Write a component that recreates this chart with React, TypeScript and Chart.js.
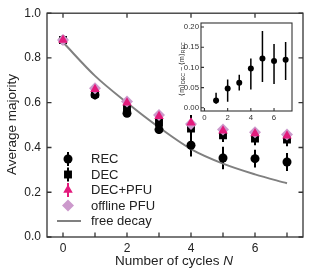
import React, { useEffect, useRef } from 'react';
import { Chart, registerables } from 'chart.js';

Chart.register(...registerables);

// ---------- data ----------
const cycles = [0, 1, 2, 3, 4, 5, 6, 7];
const recMean = [0.88, 0.635, 0.553, 0.48, 0.41, 0.353, 0.35, 0.335];
const recErr = [0.01, 0.02, 0.012, 0.02, 0.05, 0.05, 0.04, 0.04];
const decMean = [0.88, 0.64, 0.575, 0.51, 0.485, 0.455, 0.44, 0.435];
const decErr = [0.01, 0.015, 0.015, 0.02, 0.06, 0.03, 0.03, 0.03];
const decPfuMean = [0.88, 0.66, 0.6, 0.54, 0.51, 0.475, 0.462, 0.452];
const decPfuErr = [0.012, 0.015, 0.015, 0.015, 0.015, 0.015, 0.015, 0.015];
const offlineMean = [0.88, 0.665, 0.605, 0.545, 0.505, 0.48, 0.468, 0.458];
const freeDecay = [0.87, 0.72, 0.6, 0.49, 0.393, 0.328, 0.28, 0.24];

const mainXTickLabels = [0, 2, 4, 6];
const mainYTickLabels = [0, 0.2, 0.4, 0.6, 0.8, 1.0];

const insetCycles = [1, 2, 3, 4, 5, 6, 7];
const insetDiff = [0.018, 0.048, 0.062, 0.097, 0.122, 0.116, 0.119];
const insetLo = [0.01, 0.015, 0.043, 0.045, 0.064, 0.059, 0.069];
const insetHi = [0.037, 0.07, 0.082, 0.122, 0.19, 0.158, 0.163];
const insetXTickLabels = [0, 2, 4, 6];
const insetYTickLabels = [0, 0.05, 0.1, 0.15, 0.2];

const FONT = "'Liberation Sans', Arial, Helvetica, sans-serif";
const PINK = '#e31a7c';
const LILAC = '#cc99cc';
const GREY = '#808080';
const AXIS = '#333333';

const pts = (xs: number[], ys: number[]) => xs.map((x, i) => ({ x, y: ys[i] }));

// ---------- plugins ----------
const errorBarPlugin = {
  id: 'errorBars',
  beforeDatasetsDraw(chart: any) {
    const { ctx, scales } = chart;
    ctx.save();
    chart.data.datasets.forEach((ds: any) => {
      if (!ds.errLo) return;
      ctx.strokeStyle = ds.errColor || '#000';
      ctx.lineWidth = ds.errWidth || 2;
      ctx.beginPath();
      ds.data.forEach((p: any, i: number) => {
        const px = scales.x.getPixelForValue(p.x);
        ctx.moveTo(px, scales.y.getPixelForValue(ds.errLo[i]));
        ctx.lineTo(px, scales.y.getPixelForValue(ds.errHi[i]));
      });
      ctx.stroke();
    });
    ctx.restore();
  },
};

const framePlugin = {
  id: 'frame',
  afterDraw(chart: any, _args: any, opts: any) {
    const { ctx, chartArea: a, scales } = chart;
    ctx.save();
    ctx.strokeStyle = AXIS;
    ctx.lineWidth = opts.lineWidth || 1.3;
    ctx.strokeRect(a.left, a.top, a.right - a.left, a.bottom - a.top);
    const L = opts.len || 4;
    ctx.beginPath();
    (opts.bottom || []).forEach((v: number) => {
      const px = scales.x.getPixelForValue(v);
      ctx.moveTo(px, a.bottom);
      ctx.lineTo(px, a.bottom - L);
    });
    (opts.top || []).forEach((v: number) => {
      const px = scales.x.getPixelForValue(v);
      ctx.moveTo(px, a.top);
      ctx.lineTo(px, a.top + L);
    });
    (opts.left || []).forEach((v: number) => {
      const py = scales.y.getPixelForValue(v);
      ctx.moveTo(a.left, py);
      ctx.lineTo(a.left + L, py);
    });
    (opts.right || []).forEach((v: number) => {
      const py = scales.y.getPixelForValue(v);
      ctx.moveTo(a.right, py);
      ctx.lineTo(a.right - L, py);
    });
    ctx.stroke();
    ctx.restore();
  },
};

function marker(ctx: CanvasRenderingContext2D, style: string, x: number, y: number, r: number, color: string) {
  ctx.fillStyle = color;
  ctx.beginPath();
  if (style === 'circle') {
    ctx.arc(x, y, r, 0, Math.PI * 2);
  } else if (style === 'rect') {
    const s = r * Math.SQRT1_2;
    ctx.rect(x - s, y - s, 2 * s, 2 * s);
  } else if (style === 'triangle') {
    const h = r * 1.5;
    const w = r * Math.sqrt(3);
    ctx.moveTo(x, y - r);
    ctx.lineTo(x + w / 2, y - r + h);
    ctx.lineTo(x - w / 2, y - r + h);
    ctx.closePath();
  } else if (style === 'rectRot') {
    ctx.moveTo(x, y - r);
    ctx.lineTo(x + r, y);
    ctx.lineTo(x, y + r);
    ctx.lineTo(x - r, y);
    ctx.closePath();
  }
  ctx.fill();
}

const mainTextPlugin = {
  id: 'mainText',
  afterDraw(chart: any) {
    const { ctx, chartArea: a } = chart;
    ctx.save();
    ctx.fillStyle = '#222';
    // y title
    ctx.font = `13.5px ${FONT}`;
    ctx.textAlign = 'center';
    ctx.textBaseline = 'middle';
    ctx.save();
    ctx.translate(12, 124.5);
    ctx.rotate(-Math.PI / 2);
    ctx.fillText('Average majority', 0, 0);
    ctx.restore();
    // x title with italic N
    const part1 = 'Number of cycles ';
    ctx.font = `13.5px ${FONT}`;
    const w1 = ctx.measureText(part1).width;
    ctx.font = `italic 13.5px ${FONT}`;
    const w2 = ctx.measureText('N').width;
    const cx = (a.left + a.right) / 2 - 1;
    const x0 = cx - (w1 + w2) / 2;
    ctx.textAlign = 'left';
    ctx.font = `13.5px ${FONT}`;
    ctx.fillText(part1, x0, 261.5);
    ctx.font = `italic 13.5px ${FONT}`;
    ctx.fillText('N', x0 + w1, 261.5);

    // legend
    const items = [
      { label: 'REC', style: 'circle', r: 4.5, color: '#000', bar: true, barColor: '#000' },
      { label: 'DEC', style: 'rect', r: 5.6, color: '#000', bar: true, barColor: '#000' },
      { label: 'DEC+PFU', style: 'triangle', r: 5.5, color: PINK, bar: true, barColor: PINK },
      { label: 'offline PFU', style: 'rectRot', r: 6, color: LILAC, bar: false, barColor: '' },
      { label: 'free decay', style: 'line', r: 0, color: GREY, bar: false, barColor: '' },
    ];
    const mx = 68;
    const tx = 91;
    let y = 159;
    ctx.font = `13px ${FONT}`;
    ctx.textBaseline = 'middle';
    items.forEach((it) => {
      if (it.style === 'line') {
        ctx.strokeStyle = GREY;
        ctx.lineWidth = 2;
        ctx.beginPath();
        ctx.moveTo(57, y);
        ctx.lineTo(81, y);
        ctx.stroke();
      } else {
        if (it.bar) {
          ctx.strokeStyle = it.barColor;
          ctx.lineWidth = 2;
          ctx.beginPath();
          ctx.moveTo(mx, y - 7);
          ctx.lineTo(mx, y + 7);
          ctx.stroke();
        }
        marker(ctx, it.style, mx, y, it.r, it.color);
      }
      ctx.fillStyle = '#222';
      ctx.fillText(it.label, tx, y + 0.5);
      y += 15.5;
    });
    ctx.restore();
  },
};

const insetTextPlugin = {
  id: 'insetText',
  afterDraw(chart: any) {
    const { ctx, chartArea: a } = chart;
    ctx.save();
    ctx.fillStyle = '#222';
    const big = `7px ${FONT}`;
    const small = `5.2px ${FONT}`;
    const parts: [string, string, number][] = [
      ['\u27E8m\u27E9', big, 0],
      ['DEC', small, 1.6],
      [' \u2212 \u27E8m\u27E9', big, 0],
      ['REC', small, 1.6],
    ];
    let total = 0;
    const widths = parts.map(([t, f]) => {
      ctx.font = f;
      const w = ctx.measureText(t).width;
      total += w;
      return w;
    });
    ctx.translate(12, (a.top + a.bottom) / 2 + 2);
    ctx.rotate(-Math.PI / 2);
    ctx.textBaseline = 'middle';
    ctx.textAlign = 'left';
    let x = -total / 2;
    parts.forEach(([t, f, dy], i) => {
      ctx.font = f;
      ctx.fillText(t, x, dy);
      x += widths[i];
    });
    ctx.restore();
  },
};

// ---------- component ----------
export default function App() {
  const mainRef = useRef<HTMLCanvasElement | null>(null);
  const insetRef = useRef<HTMLCanvasElement | null>(null);

  useEffect(() => {
    const mainCfg: any = {
      type: 'scatter',
      data: {
        datasets: [
          {
            type: 'line',
            label: 'free decay',
            data: pts(cycles, freeDecay),
            borderColor: GREY,
            borderWidth: 2,
            pointRadius: 0,
            cubicInterpolationMode: 'monotone',
            fill: false,
            order: 5,
          },
          {
            label: 'REC',
            data: pts(cycles, recMean),
            pointStyle: 'circle',
            pointRadius: 4.5,
            backgroundColor: '#000',
            borderWidth: 0,
            errLo: recMean.map((m, i) => m - recErr[i]),
            errHi: recMean.map((m, i) => m + recErr[i]),
            errColor: '#000',
            order: 4,
          },
          {
            label: 'DEC',
            data: pts(cycles, decMean),
            pointStyle: 'rect',
            pointRadius: 5.6,
            backgroundColor: '#000',
            borderWidth: 0,
            errLo: decMean.map((m, i) => m - decErr[i]),
            errHi: decMean.map((m, i) => m + decErr[i]),
            errColor: '#000',
            order: 3,
          },
          {
            label: 'offline PFU',
            data: pts(cycles, offlineMean),
            pointStyle: 'rectRot',
            pointRadius: 6,
            backgroundColor: LILAC,
            borderWidth: 0,
            order: 2,
          },
          {
            label: 'DEC+PFU',
            data: pts(cycles, decPfuMean),
            pointStyle: 'triangle',
            pointRadius: 5.5,
            backgroundColor: PINK,
            borderWidth: 0,
            errLo: decPfuMean.map((m, i) => m - decPfuErr[i]),
            errHi: decPfuMean.map((m, i) => m + decPfuErr[i]),
            errColor: PINK,
            order: 1,
          },
        ],
      },
      options: {
        animation: false,
        responsive: false,
        devicePixelRatio: 1,
        layout: { padding: { left: 0, top: 13, right: 9, bottom: 0 } },
        plugins: {
          legend: { display: false },
          tooltip: { enabled: false },
          frame: {
            len: 4.5,
            lineWidth: 1.3,
            bottom: cycles,
            top: mainXTickLabels,
            left: mainYTickLabels,
            right: mainYTickLabels,
          },
        },
        scales: {
          x: {
            type: 'linear',
            min: -0.5,
            max: 7.5,
            grid: { display: false, drawTicks: false },
            border: { display: false },
            afterBuildTicks: (s: any) => {
              s.ticks = mainXTickLabels.map((v) => ({ value: v }));
            },
            afterFit: (s: any) => {
              s.height = 41;
            },
            ticks: {
              padding: 4,
              color: '#222',
              font: { family: FONT, size: 12 },
              callback: (v: any) => String(v),
              maxRotation: 0,
            },
          },
          y: {
            type: 'linear',
            min: 0,
            max: 1,
            grid: { display: false, drawTicks: false },
            border: { display: false },
            afterBuildTicks: (s: any) => {
              s.ticks = mainYTickLabels.map((v) => ({ value: v }));
            },
            afterFit: (s: any) => {
              s.width = 47;
            },
            ticks: {
              padding: 6,
              color: '#222',
              font: { family: FONT, size: 12 },
              callback: (v: any) => Number(v).toFixed(1),
            },
          },
        },
      },
      plugins: [errorBarPlugin, framePlugin, mainTextPlugin],
    };

    const insetCfg: any = {
      type: 'scatter',
      data: {
        datasets: [
          {
            label: 'diff',
            data: pts(insetCycles, insetDiff),
            pointStyle: 'circle',
            pointRadius: 3,
            backgroundColor: '#000',
            borderWidth: 0,
            errLo: insetLo,
            errHi: insetHi,
            errColor: '#000',
            errWidth: 1.5,
          },
        ],
      },
      options: {
        animation: false,
        responsive: false,
        devicePixelRatio: 1,
        layout: { padding: { left: 0, top: 8, right: 6, bottom: 0 } },
        plugins: {
          legend: { display: false },
          tooltip: { enabled: false },
          frame: {
            len: 3,
            lineWidth: 1.1,
            bottom: insetXTickLabels,
            left: insetYTickLabels,
          },
        },
        scales: {
          x: {
            type: 'linear',
            min: -0.3,
            max: 7.55,
            grid: { display: false, drawTicks: false },
            border: { display: false },
            afterBuildTicks: (s: any) => {
              s.ticks = insetXTickLabels.map((v) => ({ value: v }));
            },
            afterFit: (s: any) => {
              s.height = 16;
            },
            ticks: {
              padding: 2,
              color: '#333',
              font: { family: FONT, size: 7.8 },
              callback: (v: any) => String(v),
              maxRotation: 0,
            },
          },
          y: {
            type: 'linear',
            min: -0.008,
            max: 0.21,
            grid: { display: false, drawTicks: false },
            border: { display: false },
            afterBuildTicks: (s: any) => {
              s.ticks = insetYTickLabels.map((v) => ({ value: v }));
            },
            afterFit: (s: any) => {
              s.width = 31;
            },
            ticks: {
              padding: 2,
              color: '#333',
              font: { family: FONT, size: 7.8 },
              callback: (v: any) => Number(v).toFixed(2),
            },
          },
        },
      },
      plugins: [errorBarPlugin, framePlugin, insetTextPlugin],
    };

    const c1 = new Chart(mainRef.current as HTMLCanvasElement, mainCfg);
    const c2 = new Chart(insetRef.current as HTMLCanvasElement, insetCfg);
    return () => {
      c1.destroy();
      c2.destroy();
    };
  }, []);

  return (
    <div style={{ position: 'absolute', left: 0, top: 0, width: 312, height: 278, background: '#fff' }}>
      <canvas ref={mainRef} width={312} height={278} style={{ position: 'absolute', left: 0, top: 0 }} />
      <canvas ref={insetRef} width={128} height={112} style={{ position: 'absolute', left: 170, top: 15 }} />
    </div>
  );
}
